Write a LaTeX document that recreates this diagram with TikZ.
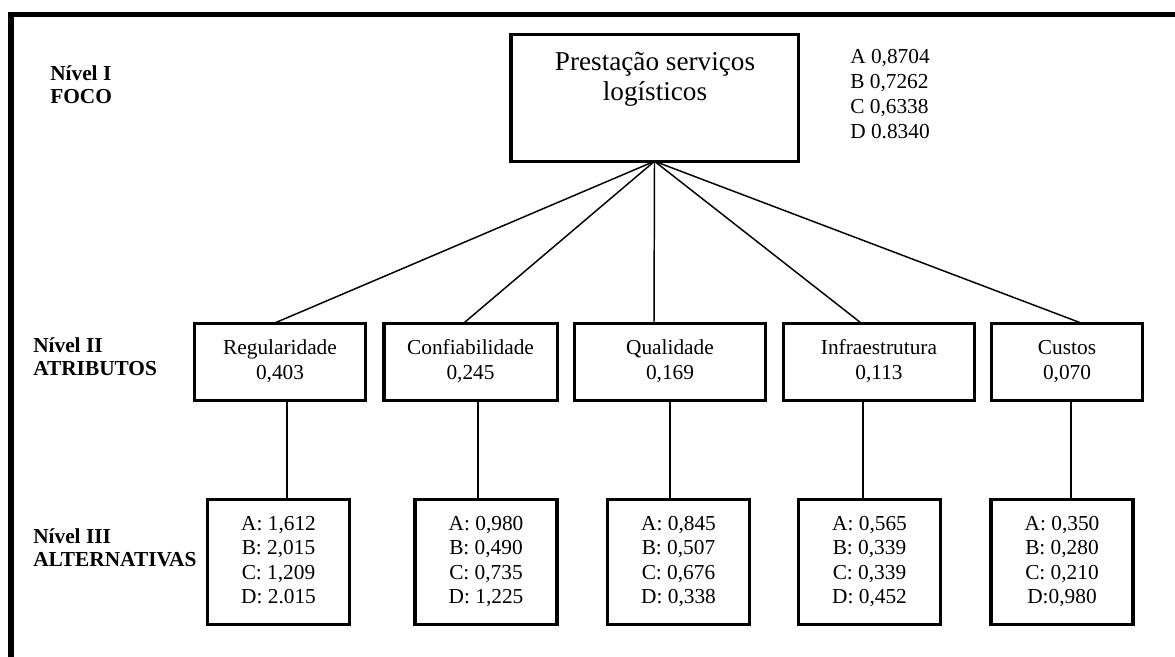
\documentclass[tikz,border=0pt]{standalone}
\usepackage{fontspec}
\setmainfont{Liberation Serif}
\usetikzlibrary{calc}
\begin{document}
\begin{tikzpicture}[x=0.75pt,y=-0.75pt,
  frameline/.style={line width=4.1pt,line join=miter},
  box/.style={draw,rectangle,line width=2.6pt,inner sep=0pt,outer sep=0pt,align=center},
  focobox/.style={box,minimum width=215.6pt,minimum height=94.9pt},
  attrbox/.style={box,minimum height=57.4pt,minimum width=#1,
    font=\fontsize{16pt}{18.75pt}\selectfont},
  altbox/.style={box,minimum height=93.4pt,minimum width=106.5pt,
    font=\fontsize{16pt}{18.4pt}\selectfont},
  link/.style={line width=1.1pt},
  levellabel/.style={anchor=north west,inner sep=0pt,align=left,
    font=\fontsize{16pt}{17.25pt}\selectfont\bfseries},
  plain/.style={inner sep=0pt,align=left,font=\fontsize{16pt}{18.75pt}\selectfont}
]
\useasboundingbox (0,0) rectangle (1175,657);

% outer frame: top and left edges
\draw[frameline] (1175,14.5) -- (11,14.5) -- (11,657);

% level labels
\node[levellabel] (lv1) at (50,64) {\strut Nível I\\\strut FOCO};
\node[levellabel] (lv2) at (33,336) {\strut Nível II\\\strut ATRIBUTOS};
\node[levellabel] (lv3) at (33,527) {\strut Nível III\\\strut ALTERNATIVAS};

% focus
\node[focobox] (foco) at (654.5,98) {};
\node[anchor=north,inner sep=0pt,align=center,
  font=\fontsize{20.4pt}{22.5pt}\selectfont] (focotext) at (655,49)
  {\strut Prestação serviços\\\strut logísticos};
\node[plain,anchor=north west] (global) at (850,45.5)
  {\strut A 0,8704\\\strut B 0,7262\\\strut C 0,6338\\\strut D 0.8340};

% attributes
\node[attrbox=127.9pt] (reg)   at (280,362)   {\strut Regularidade\\\strut 0,403};
\node[attrbox=130.1pt] (conf)  at (470.5,362) {\strut Confiabilidade\\\strut 0,245};
\node[attrbox=142.9pt] (qual)  at (670,362)   {\strut Qualidade\\\strut 0,169};
\node[attrbox=142.9pt] (infra) at (879,362)   {\strut Infraestrutura\\\strut 0,113};
\node[attrbox=112.9pt] (cust)  at (1067,362)  {\strut Custos\\\strut 0,070};

% alternatives
\node[altbox] (regalt)   at (278.5,562)
  {\strut A: 1,612\\\strut B: 2,015\\\strut C: 1,209\\\strut D: 2.015};
\node[altbox] (confalt)  at (486,562)
  {\strut A: 0,980\\\strut B: 0,490\\\strut C: 0,735\\\strut D: 1,225};
\node[altbox] (qualalt)  at (678.5,562)
  {\strut A: 0,845\\\strut B: 0,507\\\strut C: 0,676\\\strut D: 0,338};
\node[altbox] (infraalt) at (869.5,562)
  {\strut A: 0,565\\\strut B: 0,339\\\strut C: 0,339\\\strut D: 0,452};
\node[altbox] (custalt)  at (1062,562)
  {\strut A: 0,350\\\strut B: 0,280\\\strut C: 0,210\\\strut D:0,980};

% focus to attributes
\draw[link] (foco.south) -- ($(reg.north)+(-7,0)$);
\draw[link] (foco.south) -- ($(conf.north)+(-7.5,0)$);
\draw[link] (foco.south) -- ($(qual.north)+(-16,0)$);
\draw[link] (foco.south) -- ($(infra.north)+(-17,0)$);
\draw[link] (foco.south) -- ($(cust.north)+(16,0)$);

% attributes to alternatives
\coordinate (rdown) at ($(reg.south)+(7,0)$);
\coordinate (cdown) at ($(conf.south)+(7.5,0)$);
\coordinate (qdown) at (qual.south);
\coordinate (idown) at ($(infra.south)+(-16,0)$);
\coordinate (kdown) at ($(cust.south)+(4,0)$);
\draw[link] (rdown) -- (rdown |- regalt.north);
\draw[link] (cdown) -- (cdown |- confalt.north);
\draw[link] (qdown) -- (qdown |- qualalt.north);
\draw[link] (idown) -- (idown |- infraalt.north);
\draw[link] (kdown) -- (kdown |- custalt.north);
\end{tikzpicture}
\end{document}
